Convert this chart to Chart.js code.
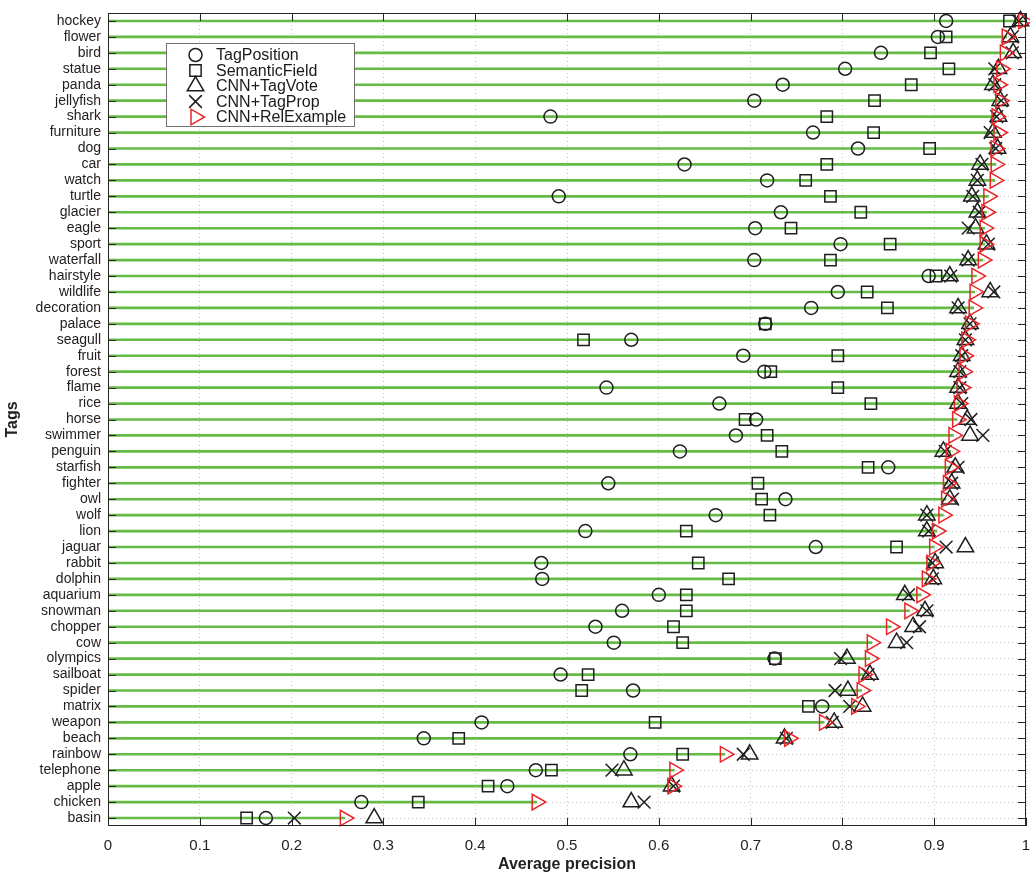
<!DOCTYPE html>
<html>
<head>
<meta charset="utf-8">
<title>Average precision per tag</title>
<script src="https://cdn.jsdelivr.net/npm/chart.js@4.4.1/dist/chart.umd.min.js"></script>
<style>
  html, body { margin: 0; padding: 0; background: #fff; }
  #chart { display: block; }
</style>
</head>
<body>
<canvas id="chart" width="1030" height="875"></canvas>
<script>
// tags, top to bottom
const tags = ['hockey', 'flower', 'bird', 'statue', 'panda', 'jellyfish', 'shark', 'furniture', 'dog', 'car',
  'watch', 'turtle', 'glacier', 'eagle', 'sport', 'waterfall', 'hairstyle', 'wildlife', 'decoration', 'palace',
  'seagull', 'fruit', 'forest', 'flame', 'rice', 'horse', 'swimmer', 'penguin', 'starfish', 'fighter',
  'owl', 'wolf', 'lion', 'jaguar', 'rabbit', 'dolphin', 'aquarium', 'snowman', 'chopper', 'cow',
  'olympics', 'sailboat', 'spider', 'matrix', 'weapon', 'beach', 'rainbow', 'telephone', 'apple', 'chicken',
  'basin'];

// average precision per method
const tagPosition = [0.913, 0.904, 0.842, 0.803, 0.735, 0.704, 0.482, 0.768, 0.817, 0.628,
  0.718, 0.491, 0.733, 0.705, 0.798, 0.704, 0.894, 0.795, 0.766, 0.716,
  0.570, 0.692, 0.715, 0.543, 0.666, 0.706, 0.684, 0.623, 0.850, 0.545,
  0.738, 0.662, 0.520, 0.771, 0.472, 0.473, 0.600, 0.560, 0.531, 0.551,
  0.726, 0.493, 0.572, 0.778, 0.407, 0.344, 0.569, 0.466, 0.435, 0.276,
  0.172];
const semanticField = [0.982, 0.913, 0.896, 0.916, 0.875, 0.835, 0.783, 0.834, 0.895, 0.783,
  0.760, 0.787, 0.820, 0.744, 0.852, 0.787, 0.902, 0.827, 0.849, 0.716,
  0.518, 0.795, 0.722, 0.795, 0.831, 0.694, 0.718, 0.734, 0.828, 0.708,
  0.712, 0.721, 0.630, 0.859, 0.643, 0.676, 0.630, 0.630, 0.616, 0.626,
  0.727, 0.523, 0.516, 0.763, 0.596, 0.382, 0.626, 0.483, 0.414, 0.338,
  0.151];
const cnnTagVote = [0.994, 0.983, 0.986, 0.970, 0.964, 0.972, 0.970, 0.964, 0.969, 0.950,
  0.947, 0.941, 0.947, 0.945, 0.957, 0.937, 0.917, 0.961, 0.926, 0.939,
  0.934, 0.930, 0.926, 0.926, 0.926, 0.936, 0.939, 0.910, 0.923, 0.919,
  0.917, 0.892, 0.892, 0.934, 0.901, 0.899, 0.868, 0.890, 0.877, 0.859,
  0.805, 0.830, 0.806, 0.822, 0.791, 0.737, 0.699, 0.562, 0.614, 0.570,
  0.290];
const cnnTagProp = [0.992, 0.985, 0.985, 0.966, 0.966, 0.973, 0.968, 0.961, 0.967, 0.952,
  0.947, 0.942, 0.949, 0.937, 0.959, 0.937, 0.918, 0.965, 0.926, 0.939,
  0.934, 0.930, 0.928, 0.928, 0.930, 0.940, 0.953, 0.912, 0.926, 0.919,
  0.920, 0.892, 0.894, 0.913, 0.898, 0.898, 0.872, 0.892, 0.884, 0.870,
  0.798, 0.828, 0.792, 0.808, 0.789, 0.739, 0.692, 0.549, 0.616, 0.584,
  0.203];
const cnnRelExample = [0.997, 0.979, 0.977, 0.973, 0.970, 0.972, 0.968, 0.970, 0.967, 0.967,
  0.966, 0.959, 0.957, 0.955, 0.955, 0.953, 0.946, 0.944, 0.943, 0.939,
  0.935, 0.933, 0.932, 0.930, 0.927, 0.925, 0.921, 0.918, 0.917, 0.915,
  0.913, 0.910, 0.903, 0.900, 0.897, 0.892, 0.886, 0.873, 0.853, 0.832,
  0.830, 0.823, 0.821, 0.815, 0.780, 0.742, 0.672, 0.617, 0.615, 0.467,
  0.258];

const FONT = '"Liberation Sans", Arial, Helvetica, sans-serif';
const INK = '#1f1f1f';
const RED = '#e8262a';
const GREEN = '#66bb46';
const GRID = '#c4c4c4';

// marker look for each method, drawn in this order (red last, on top)
const markerSeries = [
  { label: 'TagPosition', values: tagPosition, style: 'circle', radius: 6.5, rotation: 0, color: INK },
  { label: 'SemanticField', values: semanticField, style: 'rect', radius: 8, rotation: 0, color: INK },
  { label: 'CNN+TagVote', values: cnnTagVote, style: 'triangle', radius: 9.5, rotation: 0, color: INK },
  { label: 'CNN+TagProp', values: cnnTagProp, style: 'crossRot', radius: 9, rotation: 0, color: INK },
  { label: 'CNN+RelExample', values: cnnRelExample, style: 'triangle', radius: 9, rotation: 90, color: RED }
];

const scatterSets = markerSeries.map((s, i) => ({
  type: 'scatter',
  label: s.label,
  data: s.values.map((v, k) => ({ x: v, y: tags[k] })),
  pointStyle: s.style,
  pointRadius: s.radius,
  pointRotation: s.rotation,
  pointBorderColor: s.color,
  pointBackgroundColor: 'rgba(0,0,0,0)',
  pointBorderWidth: 1.5,
  borderColor: s.color,
  backgroundColor: 'rgba(0,0,0,0)',
  showLine: false,
  clip: false,
  order: markerSeries.length - 1 - i
}));

// thin green line from 0 up to the CNN+RelExample score
const stemSet = {
  type: 'bar',
  label: 'stem',
  data: cnnRelExample,
  backgroundColor: GREEN,
  borderWidth: 0,
  barThickness: 2,
  order: 10
};

// MATLAB style box with inward ticks
const framePlugin = {
  id: 'frame',
  afterDatasetsDraw(chart) {
    const { ctx, chartArea: a, scales: { x, y } } = chart;
    ctx.save();
    ctx.strokeStyle = '#262626';
    ctx.lineWidth = 1;
    ctx.beginPath();
    x.ticks.forEach(t => {
      const px = Math.round(x.getPixelForValue(t.value)) + 0.5;
      ctx.moveTo(px, a.bottom); ctx.lineTo(px, a.bottom - 8);
      ctx.moveTo(px, a.top); ctx.lineTo(px, a.top + 8);
    });
    tags.forEach((t, i) => {
      const py = Math.round(y.getPixelForValue(i)) + 0.5;
      ctx.moveTo(a.left, py); ctx.lineTo(a.left + 8, py);
      ctx.moveTo(a.right, py); ctx.lineTo(a.right - 8, py);
    });
    ctx.stroke();
    ctx.strokeRect(Math.round(a.left) + 0.5, Math.round(a.top) + 0.5, Math.round(a.width) - 1, Math.round(a.height) - 1);
    ctx.restore();
  }
};

// legend box in the upper left of the plot
const legendPlugin = {
  id: 'insetLegend',
  afterDraw(chart) {
    const ctx = chart.ctx;
    ctx.save();
    ctx.fillStyle = '#ffffff';
    ctx.fillRect(166.5, 43.5, 188, 83);
    ctx.strokeStyle = '#707070';
    ctx.lineWidth = 1;
    ctx.strokeRect(166.5, 43.5, 188, 83);
    ctx.font = '16px ' + FONT;
    ctx.textBaseline = 'middle';
    markerSeries.forEach((s, i) => {
      const cy = 55 + i * 15.5;
      ctx.strokeStyle = s.color;
      ctx.fillStyle = 'rgba(0,0,0,0)';
      ctx.lineWidth = 1.5;
      Chart.helpers.drawPoint(ctx, { pointStyle: s.style, radius: s.radius, rotation: s.rotation, borderWidth: 1.5 }, 195.5, cy);
      ctx.fillStyle = '#1a1a1a';
      ctx.fillText(s.label, 216, cy + 1);
    });
    ctx.restore();
  }
};

new Chart(document.getElementById('chart').getContext('2d'), {
  type: 'bar',
  data: {
    labels: tags,
    datasets: [stemSet, ...scatterSets]
  },
  options: {
    indexAxis: 'y',
    responsive: false,
    animation: false,
    events: [],
    layout: { autoPadding: false, padding: { top: 13, right: 4, left: 0, bottom: 0 } },
    plugins: {
      legend: { display: false },
      tooltip: { enabled: false }
    },
    scales: {
      x: {
        type: 'linear',
        position: 'bottom',
        min: 0,
        max: 1,
        ticks: {
          stepSize: 0.1,
          padding: 11,
          maxRotation: 0,
          autoSkip: false,
          color: '#222',
          font: { family: FONT, size: 15 },
          callback: v => String(Math.round(v * 10) / 10)
        },
        grid: { color: GRID, drawTicks: false, lineWidth: 1 },
        border: { display: false, dash: [1, 3] },
        title: {
          display: true,
          text: 'Average precision',
          color: '#222',
          font: { family: FONT, size: 16, weight: 'bold' },
          padding: { top: 0, bottom: 1 }
        },
        afterFit: s => { s.height = 49; s.paddingLeft = 0; s.paddingRight = 0; }
      },
      y: {
        type: 'category',
        position: 'left',
        labels: tags,
        offset: true,
        ticks: {
          autoSkip: false,
          padding: 7,
          color: '#222',
          font: { family: FONT, size: 14 }
        },
        grid: { offset: false, color: GRID, drawTicks: false, lineWidth: 1 },
        border: { display: false, dash: [1, 3] },
        title: {
          display: true,
          text: 'Tags',
          color: '#222',
          font: { family: FONT, size: 16, weight: 'bold' },
          padding: { top: 3, bottom: 0 }
        },
        afterFit: s => { s.width = 108; s.paddingTop = 0; s.paddingBottom = 0; }
      }
    }
  },
  plugins: [framePlugin, legendPlugin]
});
</script>
</body>
</html>
